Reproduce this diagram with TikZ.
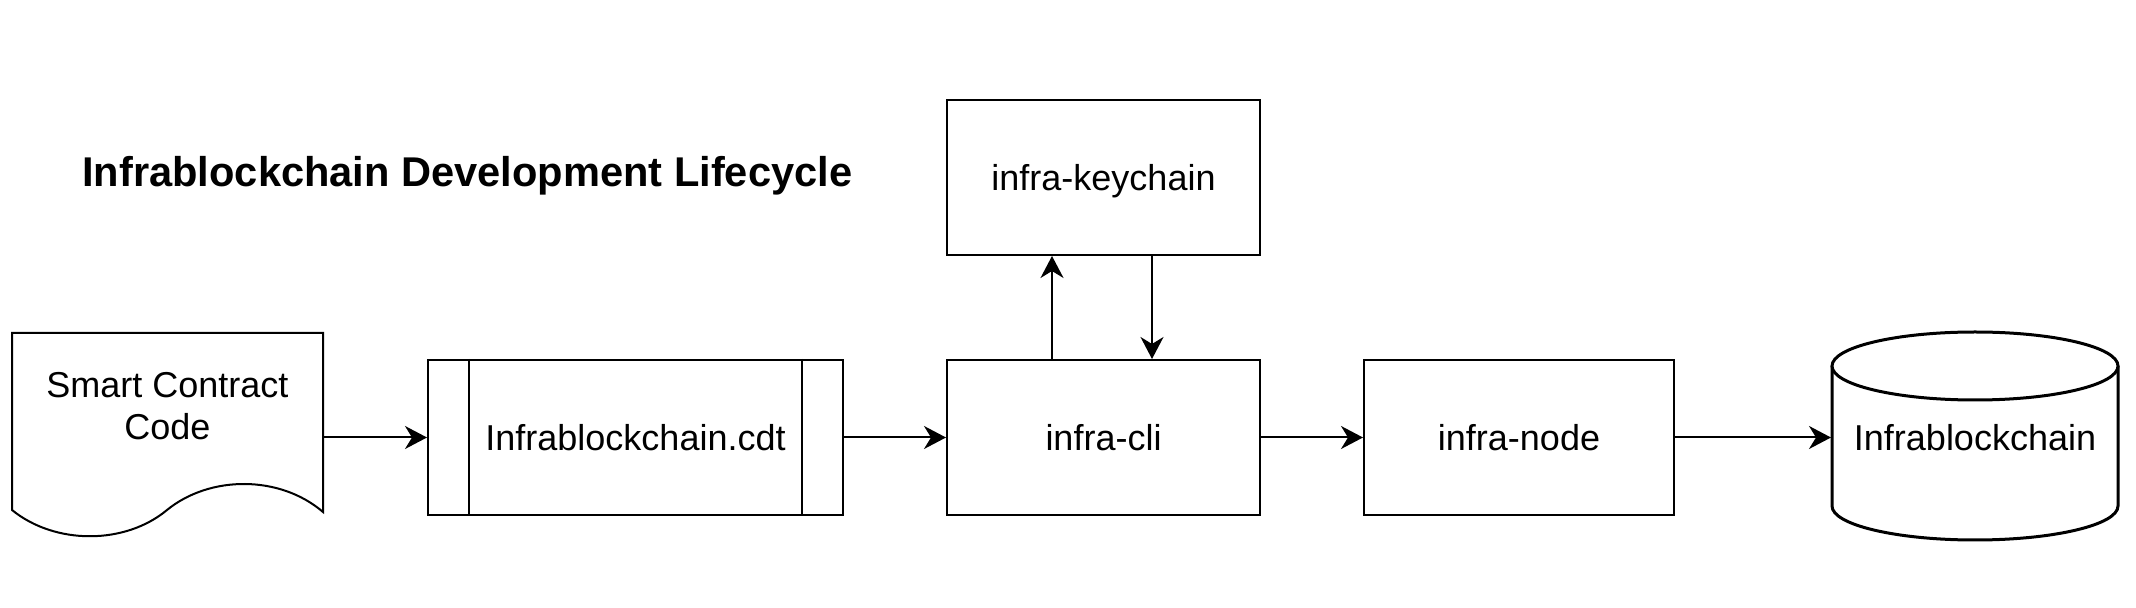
\documentclass[tikz,border=0pt]{standalone}
\usepackage{fontspec}
\setmainfont{Liberation Sans}
\usetikzlibrary{arrows.meta}
\begin{document}
\begin{tikzpicture}[x=0.5pt,y=-0.5pt,
  box/.style={draw,line width=1pt,inner sep=0pt,minimum height=77.5pt,text height=13pt,text depth=0pt,font=\fontsize{18pt}{21pt}\selectfont},
  lbl/.style={inner sep=0pt,align=center,font=\fontsize{18pt}{21pt}\selectfont},
  conn/.style={line width=1pt,-{Stealth[length=11pt,width=11.5pt,inset=3.5pt]}},
  title/.style={inner sep=0pt,font=\fontsize{20.8pt}{24pt}\selectfont\bfseries}]
\useasboundingbox (0,0) rectangle (2136,608);
% title
\node[title,anchor=base west] (title) at (82,187) {Infrablockchain Development Lifecycle};
% document shape
\draw[line width=1pt,fill=white] (12,333) -- (323,333) -- (323,512)
  .. controls (280,475) and (210,475) .. (167,510)
  .. controls (125,545) and (55,545) .. (12,510) -- cycle;
\node[lbl,minimum width=155.5pt,minimum height=89.5pt] (doc) at (167.5,422.5) {};
\node[lbl] (doctext) at (167.5,406) {Smart Contract\\Code};
% boxes
\node[box,minimum width=207.5pt] (cdt) at (635.5,437.5) {Infrablockchain.cdt};
\draw[line width=1pt] ([xshift=21pt]cdt.north west) -- ([xshift=21pt]cdt.south west);
\draw[line width=1pt] ([xshift=-21pt]cdt.north east) -- ([xshift=-21pt]cdt.south east);
\node[box,minimum width=156.5pt] (cli) at (1103.5,437.5) {infra-cli};
\node[box,minimum width=156.5pt] (key) at (1103.5,177.5) {infra-keychain};
\node[box,minimum width=155pt] (inode) at (1519,437.5) {infra-node};
% cylinder
\draw[line width=1.5pt,fill=white] (1832,366) -- (1832,506) arc[start angle=180,end angle=360,x radius=71.5pt,y radius=17pt] -- (2118,366);
\draw[line width=1.5pt,fill=white] (1975,366) ellipse[x radius=71.5pt,y radius=17pt];
\node[box,draw=none,minimum width=143pt,minimum height=104pt] (chain) at (1975,437.5) {Infrablockchain};
% connectors
\draw[conn] (doc.east |- cdt.west) -- (cdt.west);
\draw[conn] (cdt.east) -- (cli.west);
\draw[conn] (cli.east) -- (inode.west);
\draw[conn] (inode.east) -- (chain.west);
\draw[conn] (cli.north -| 1052,0) -- (key.south -| 1052,0);
\draw[conn] (key.south -| 1152,0) -- (cli.north -| 1152,0);
\end{tikzpicture}
\end{document}
